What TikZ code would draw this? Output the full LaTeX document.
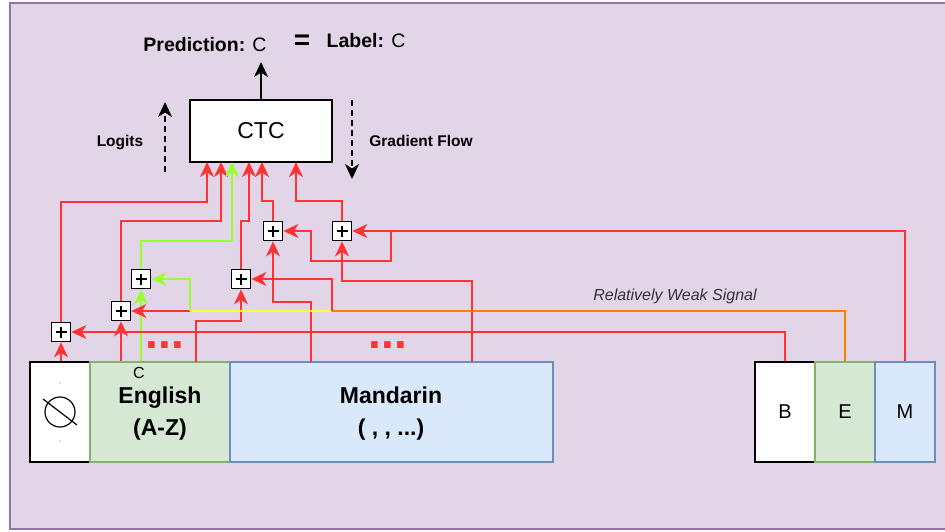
\documentclass[tikz,border=0pt]{standalone}
\usepackage{fontspec}
\setmainfont{Liberation Sans}
\usetikzlibrary{arrows.meta,calc}
\definecolor{bgfill}{HTML}{E1D5E7}
\definecolor{bgline}{HTML}{9673A6}
\definecolor{engfill}{HTML}{D5E8D4}
\definecolor{engline}{HTML}{82B366}
\definecolor{manfill}{HTML}{DAE8FC}
\definecolor{manline}{HTML}{6C8EBF}
\definecolor{linered}{HTML}{FF3333}
\definecolor{linegreen}{HTML}{99FF33}
\definecolor{lineyellow}{HTML}{FFFF33}
\definecolor{lineorange}{HTML}{FF8000}
\newcommand\setfs[1]{\fontsize{#1pt}{#1pt}\selectfont}
\begin{document}
\begin{tikzpicture}[x=1pt,y=-1pt,
  lr/.style={draw=linered,line width=1.6pt},
  lg/.style={draw=linegreen,line width=1.6pt},
  tip/.style={-{Stealth[length=15pt,width=14pt,inset=4.5pt]}},
  blk/.style={draw=black,line width=1.5pt},
  cellbox/.style={draw,line width=1.4pt,minimum height=100pt,inner sep=0pt,align=center},
  celltext/.style={font=\fontsize{23pt}{32pt}\selectfont\bfseries,align=center,inner sep=0pt},
  plusbox/.style={draw=black,fill=white,line width=1.8pt,minimum size=19pt,inner sep=0pt,
    path picture={
      \draw[line width=1.7pt] ([xshift=-5.5pt]path picture bounding box.center) -- ([xshift=5.5pt]path picture bounding box.center);
      \draw[line width=1.7pt] ([yshift=-5.5pt]path picture bounding box.center) -- ([yshift=5.5pt]path picture bounding box.center);
    }},
  dotstext/.style={font=\setfs{46}\bfseries,text=linered,anchor=base,inner sep=0pt}
]
\useasboundingbox (0,0) rectangle (945,531);
\filldraw[fill=bgfill,draw=bgline,line width=1.5pt] (10,3) rectangle (965,529);

% main boxes
\node[blk,fill=white,minimum width=142pt,minimum height=62pt,inner sep=0pt,font=\setfs{23}] (ctc) at (261,131) {CTC};
\node[cellbox,fill=white,draw=black,minimum width=60pt] (nullb) at (60,412) {};
\node[cellbox,fill=engfill,draw=engline,minimum width=140pt] (eng) at (160,412) {};
\node[cellbox,fill=manfill,draw=manline,minimum width=323pt] (man) at (391.5,412) {};
\node[cellbox,fill=white,draw=black,minimum width=60pt,font=\setfs{20}] (bb) at (785,412) {B};
\node[cellbox,fill=engfill,draw=engline,minimum width=60pt,font=\setfs{20}] (eb) at (845,412) {E};
\node[cellbox,fill=manfill,draw=manline,minimum width=60pt,font=\setfs{20}] (mb) at (905,412) {M};
\node[celltext] (engtxt) at (160,414) {English\\(A-Z)};
\node[celltext] (mantxt) at (391,414) {Mandarin\\( , , ...)};

% null symbol
\draw[line width=1.2pt] (nullb.center) circle (15);
\draw[line width=1.2pt] ($(nullb.center)+(-17,-13)$) -- ($(nullb.center)+(17,13)$);
\fill[gray!50] (60,383) circle (0.9);
\fill[gray!50] (60,441) circle (0.9);

% texts
\node[font=\setfs{16}] (clab) at (139,373) {C};
\node[font=\setfs{19.5}] (pred) at (205,45) {\textbf{Prediction:} C};
\node[font=\setfs{28}\bfseries] (eq) at (302,42) {=};
\node[font=\setfs{19.5}] (lab) at (366,41) {\textbf{Label:} C};
\node[font=\setfs{15.5}\bfseries] (logits) at (120,143) {Logits};
\node[font=\setfs{15.5}\bfseries] (grad) at (421,141) {Gradient Flow};
\node[font=\setfs{16}\itshape,text=black!80] (weak) at (675,296) {Relatively Weak Signal};
\node[dotstext] (dots1) at (165,348.5) {...};
\node[dotstext] (dots2) at (388,348.5) {...};

% plus nodes
\node[plusbox] (A) at (61,332) {};
\node[plusbox] (B) at (121,311) {};
\node[plusbox] (C) at (141,279) {};
\node[plusbox] (D) at (241,279) {};
\node[plusbox] (E) at (273,231) {};
\node[plusbox] (F) at (342,231) {};

% top arrows
\coordinate (outtip) at (261,62);
\draw[blk,tip] (ctc.north) -- (outtip);
\coordinate (lg1) at (165,172);
\coordinate (lg2) at (165,102);
\draw[blk,dash pattern=on 6pt off 4pt,tip] (lg1) -- (lg2);
\coordinate (gr1) at (352,100);
\coordinate (gr2) at (352,179);
\draw[blk,dash pattern=on 6pt off 4pt,tip] (gr1) -- (gr2);

% CTC inputs
\coordinate (in1) at (207,162);
\coordinate (in2) at (221,162);
\coordinate (in3) at (232,162);
\coordinate (in4) at (249,162);
\coordinate (in5) at (262,162);
\coordinate (in6) at (296,162);
\coordinate (k1) at (207,202);
\coordinate (k2) at (221,221);
\coordinate (k3) at (232,241);
\coordinate (k4) at (249,221);
\coordinate (k5) at (262,201);
\coordinate (k6) at (296,201);
\draw[lr,tip] (A.north) |- (k1) -- (in1);
\draw[lr,tip] (B.north) |- (k2) -- (in2);
\draw[lg,tip] (C.north) |- (k3) -- (in3);
\draw[lr,tip] (D.north) |- (k4) -- (in4);
\draw[lr,tip] (E.north) |- (k5) -- (in5);
\draw[lr,tip] (F.north) |- (k6) -- (in6);

% inputs to plus nodes
\draw[lr,tip] (A |- nullb.north) -- (A.south);
\draw[lr,tip] (B |- eng.north) -- (B.south);
\draw[lg,tip] (C |- eng.north) -- (C.south);
\draw[lr,tip] (bb.north) |- (A.east);

\coordinate (e3) at (196,362);
\coordinate (d1) at (241,321);
\draw[lr,tip] (e3) |- (d1) -- (D.south);
\coordinate (m1) at (311,362);
\coordinate (e1) at (273,302);
\draw[lr,tip] (m1) |- (e1) -- (E.south);
\coordinate (m2) at (472,362);
\coordinate (f1) at (342,281);
\draw[lr,tip] (m2) |- (f1) -- (F.south);

\draw[lr,tip] (mb.north) |- (F.east);
\coordinate (j1) at (391,231);
\coordinate (j2) at (391,261);
\coordinate (j3) at (311,231);
\draw[lr,tip] (j1) -- (j2) -| (j3) -- (E.east);

\coordinate (ey) at (332,311);
\coordinate (gy) at (190,311);
\draw[line width=1.6pt,draw=lineorange] (eb.north) |- (ey);
\draw[line width=1.6pt,draw=lineyellow] (ey) -- (gy);
\draw[lr,tip] (gy) -- (B.east);
\draw[lg,tip] (gy) |- (C.east);
\draw[lr,tip] (ey) |- (D.east);
\end{tikzpicture}
\end{document}
